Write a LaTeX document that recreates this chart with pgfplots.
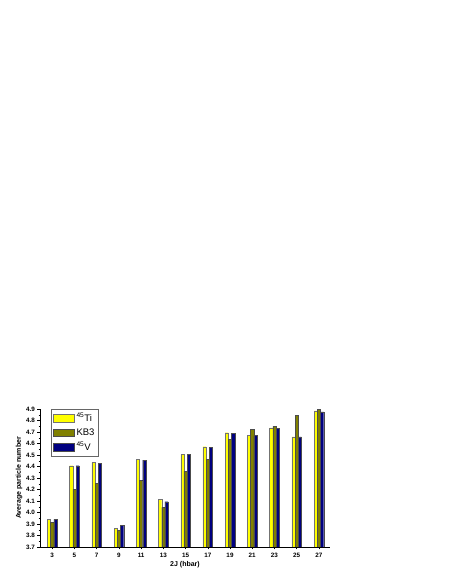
\documentclass[border=0pt]{standalone}
\usepackage{pgfplots}
\pgfplotsset{compat=1.18}
\usepackage{fontspec}
\setmainfont{Liberation Sans}
\definecolor{tiyellow}{RGB}{255,255,0}
\definecolor{kbolive}{RGB}{128,128,0}
\definecolor{vnavy}{RGB}{0,0,128}

\begin{document}
\begin{tikzpicture}[x=1pt,y=1pt]
\useasboundingbox[fill=white] (0,0) rectangle (451,583);
\begin{axis}[
    at={(40pt,36pt)}, anchor=south west,
    scale only axis, width=290pt, height=138pt,
    ybar=0pt, bar width=3.2pt,
    xmin=-0.55, xmax=12.5,
    ymin=3.7, ymax=4.9,
    xtick={0,...,12},
    xticklabels={3,5,7,9,11,13,15,17,19,21,23,25,27},
    ytick={3.7,3.8,...,4.91},
    minor y tick num=1,
    yticklabel style={/pgf/number format/fixed, /pgf/number format/fixed zerofill,
        /pgf/number format/precision=1, /pgf/number format/assume math mode=true,
        xshift=1pt},
    ticklabel style={font=\fontsize{6.3}{7}\selectfont\bfseries},
    axis lines=left,
    axis line style={-, line width=0.5pt},
    tick style={black, line width=0.4pt},
    tick align=outside,
    major tick length=2.5pt,
    minor tick length=1.3pt,
    xlabel={2J (hbar)},
    ylabel={Average particle number},
    label style={font=\fontsize{7}{8}\selectfont\bfseries},
    xlabel style={yshift=3pt},
    ylabel style={yshift=-3pt},
    legend style={at={(0.038,1.0)}, anchor=north west, draw=black!60, line width=0.4pt,
        font=\fontsize{9.5}{10}\selectfont, row sep=1.5pt, inner sep=2pt},
    legend cell align=left,
    legend image code/.code={\draw[#1, line width=0.3pt] (0pt,-3.8pt) rectangle (21pt,3.8pt);},
]
\addplot[fill=tiyellow, draw=black!55, line width=0.3pt] coordinates {
(0,3.94) (1,4.407) (2,4.436) (3,3.862) (4,4.462) (5,4.114) (6,4.506)
(7,4.572) (8,4.694) (9,4.671) (10,4.735) (11,4.657) (12,4.883)};
\addplot[fill=kbolive, draw=black!70, line width=0.3pt] coordinates {
(0,3.917) (1,4.20) (2,4.254) (3,3.845) (4,4.277) (5,4.045) (6,4.358)
(7,4.462) (8,4.639) (9,4.726) (10,4.749) (11,4.845) (12,4.897)};
\addplot[fill=vnavy, draw=black!70, line width=0.3pt] coordinates {
(0,3.94) (1,4.407) (2,4.43) (3,3.888) (4,4.456) (5,4.094) (6,4.506)
(7,4.564) (8,4.688) (9,4.671) (10,4.732) (11,4.657) (12,4.874)};
\legend{$^{\mathrm{45}}$Ti, KB3, $^{\mathrm{45}}$V}
\end{axis}
\end{tikzpicture}
\end{document}
